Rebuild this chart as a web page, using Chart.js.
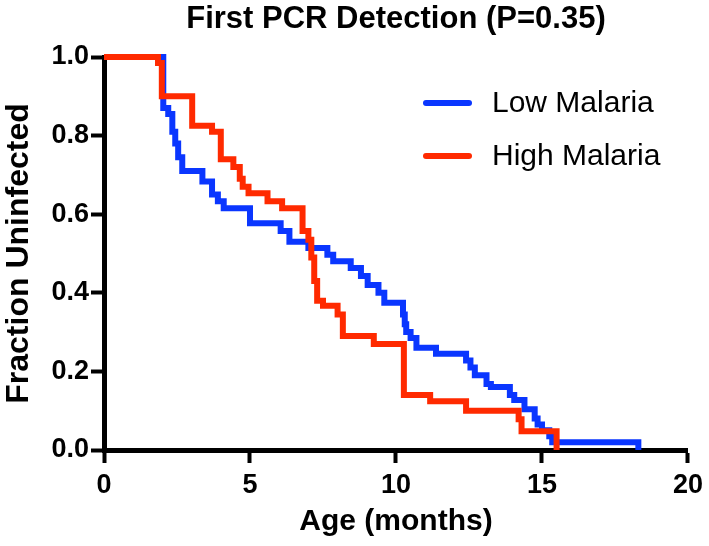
<!DOCTYPE html>
<html>
<head>
<meta charset="utf-8">
<script src="https://cdn.jsdelivr.net/npm/chart.js@4.4.1/dist/chart.umd.min.js"></script>
<style>
  html, body { margin: 0; padding: 0; background: #fff; }
  #wrap { width: 709px; height: 546px; }
</style>
</head>
<body>
<div id="wrap"><canvas id="km" width="709" height="546"></canvas></div>
<script>
// Kaplan-Meier style step curves, first PCR detection by malaria group.
// Each pair is (month at which the curve drops, fraction after the drop).
const CHART_TITLE = "First PCR Detection (P=0.35)";
const SERIES_NAMES = ["Low Malaria", "High Malaria"];
const X_TICKS = [0, 5, 10, 15, 20];
const Y_TICKS = [0, 0.2, 0.4, 0.6, 0.8, 1.0];

const lowMonths = [0, 2.03, 2.2, 2.34, 2.44, 2.54, 2.68, 3.37, 3.7, 3.9, 4.1, 5.0, 6.05, 6.35,
  7.0, 7.65, 7.85, 8.45, 8.8, 9.03, 9.4, 9.6, 10.24, 10.3, 10.35, 10.5, 10.7, 11.37, 12.4,
  12.55, 12.7, 13.1, 13.25, 13.9, 14.05, 14.4, 14.75, 14.85, 15.0, 15.25, 15.35, 18.3, 18.3];
const lowFraction = [1.0, 0.87, 0.855, 0.81, 0.78, 0.745, 0.71, 0.683, 0.65, 0.633, 0.615, 0.577, 0.557, 0.53,
  0.514, 0.497, 0.48, 0.463, 0.443, 0.42, 0.40, 0.375, 0.345, 0.32, 0.30, 0.285, 0.26, 0.245, 0.228,
  0.21, 0.19, 0.168, 0.16, 0.14, 0.127, 0.104, 0.08, 0.065, 0.05, 0.035, 0.02, 0.02, 0.0];

const highMonths = [0, 1.85, 1.98, 3.02, 3.7, 4.0, 4.43, 4.65, 4.75, 4.95, 5.6, 6.1, 6.8, 7.0,
  7.1, 7.2, 7.3, 7.5, 8.0, 8.18, 9.24, 10.27, 11.17, 12.4, 14.2, 14.3, 15.5];
const highFraction = [1.0, 0.985, 0.90, 0.825, 0.81, 0.74, 0.72, 0.69, 0.67, 0.653, 0.633, 0.615, 0.557, 0.535,
  0.49, 0.43, 0.38, 0.367, 0.345, 0.29, 0.27, 0.14, 0.124, 0.10, 0.078, 0.048, 0.0];

const COLORS = { low: "#0a36ff", high: "#ff2a00" };
const FONT = "'Liberation Sans', Arial, Helvetica, sans-serif";

function toPoints(xs, ys) {
  return xs.map((x, i) => ({ x: x, y: ys[i] }));
}

// title centred over the plot area, like the original
const titlePlugin = {
  id: "plotTitle",
  afterDraw(chart) {
    const ctx = chart.ctx, a = chart.chartArea;
    ctx.save();
    ctx.font = "bold 31px " + FONT;
    ctx.fillStyle = "#000";
    ctx.textAlign = "center";
    ctx.textBaseline = "middle";
    ctx.fillText(CHART_TITLE, (a.left + a.right) / 2, 19);
    ctx.restore();
  }
};

// legend sits inside the plot, upper right
const legendPlugin = {
  id: "innerLegend",
  afterDraw(chart) {
    const ctx = chart.ctx;
    const rows = [103, 156];
    ctx.save();
    chart.data.datasets.forEach((ds, i) => {
      ctx.strokeStyle = ds.borderColor;
      ctx.lineWidth = 6;
      ctx.lineCap = "round";
      ctx.beginPath();
      ctx.moveTo(426, rows[i]);
      ctx.lineTo(469, rows[i]);
      ctx.stroke();
      ctx.font = "30px " + FONT;
      ctx.fillStyle = "#000";
      ctx.textAlign = "left";
      ctx.textBaseline = "middle";
      ctx.fillText(ds.label, 492, rows[i] + 1);
    });
    ctx.restore();
  }
};

const axisGrid = { display: true, drawOnChartArea: false, drawTicks: true, tickLength: 13, tickWidth: 4, tickColor: "#000" };

new Chart(document.getElementById("km"), {
  type: "line",
  data: {
    datasets: [
      { label: SERIES_NAMES[0], data: toPoints(lowMonths, lowFraction), borderColor: COLORS.low,
        borderWidth: 6, stepped: true, pointRadius: 0, fill: false, order: 1, clip: 6 },
      { label: SERIES_NAMES[1], data: toPoints(highMonths, highFraction), borderColor: COLORS.high,
        borderWidth: 6, stepped: true, pointRadius: 0, fill: false, order: 0, clip: 6 }
    ]
  },
  options: {
    responsive: false,
    animation: false,
    layout: { padding: { top: 57, right: 21, left: 0, bottom: 0 } },
    plugins: { legend: { display: false }, title: { display: false }, tooltip: { enabled: false } },
    scales: {
      x: {
        type: "linear", min: 0, max: 20,
        afterFit: s => { s.height = 96; },
        afterBuildTicks: s => { s.ticks = X_TICKS.map(v => ({ value: v })); },
        border: { color: "#000", width: 5 },
        grid: axisGrid,
        ticks: { color: "#000", padding: 6, maxRotation: 0, font: { family: FONT, size: 27, weight: "bold" } },
        title: { display: true, text: "Age (months)", color: "#000", padding: { top: 0, bottom: 6 },
                 font: { family: FONT, size: 30, weight: "bold" } }
      },
      y: {
        min: 0, max: 1,
        afterFit: s => { s.width = 104; },
        afterBuildTicks: s => { s.ticks = Y_TICKS.map(v => ({ value: v })); },
        border: { color: "#000", width: 5 },
        grid: axisGrid,
        ticks: { color: "#000", padding: 2, callback: v => v.toFixed(1),
                 font: { family: FONT, size: 27, weight: "bold" } },
        title: { display: true, text: "Fraction Uninfected", color: "#000", padding: { top: 0, bottom: 0 },
                 font: { family: FONT, size: 32, weight: "bold" } }
      }
    }
  },
  plugins: [titlePlugin, legendPlugin]
});
</script>
</body>
</html>
